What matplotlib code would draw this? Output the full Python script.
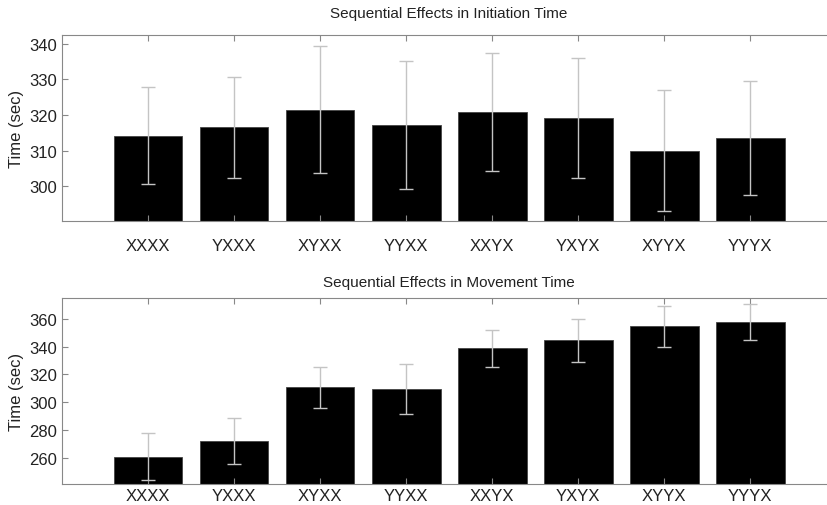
import matplotlib.pyplot as plt
import numpy as np

plt.rcParams['font.family'] = ['Liberation Sans', 'DejaVu Sans']

sequences = ['XXXX', 'YXXX', 'XYXX', 'YYXX', 'XXYX', 'YXYX', 'XYYX', 'YYYX']

# initiation time (sec) and error
init_mean = [314.2, 316.5, 321.5, 317.3, 320.8, 319.1, 310.0, 313.5]
init_err = [13.7, 14.3, 17.8, 18.0, 16.6, 16.8, 17.0, 16.0]

# movement time (sec) and error
move_mean = [261.0, 272.5, 310.6, 309.6, 338.6, 344.4, 354.4, 357.8]
move_err = [17.0, 16.5, 14.5, 17.7, 13.4, 15.3, 15.0, 12.8]


def bar_panel(ax, means, errs, title, ylim, yticks, title_pad, xpad):
    x = np.arange(1, len(sequences) + 1)
    ax.bar(x, means, width=0.8, color='black', edgecolor='#444444', linewidth=0.6)
    ax.errorbar(x, means, yerr=errs, fmt='none', ecolor='#c4c4c4',
                elinewidth=1.0, capsize=5, capthick=1.0)
    ax.set_xlim(0, 9)
    ax.set_ylim(*ylim)
    ax.set_yticks(yticks)
    ax.set_xticks(x)
    ax.set_xticklabels(sequences)
    ax.set_ylabel('Time (sec)', fontsize=12, color='#222222')
    ax.set_title(title, fontsize=11, color='#222222', pad=title_pad)
    ax.tick_params(direction='in', top=True, right=True, length=4,
                   color='#888888', labelsize=12, labelcolor='#222222')
    ax.tick_params(axis='x', pad=xpad)
    for s in ax.spines.values():
        s.set_color('#888888')


fig = plt.figure(figsize=(8.28, 5.06), dpi=100)
ax1 = fig.add_axes([0.0749, 0.5613, 0.935, 0.3676])
ax2 = fig.add_axes([0.0749, 0.0415, 0.935, 0.367])

bar_panel(ax1, init_mean, init_err, 'Sequential Effects in Initiation Time',
          (290.2, 342.5), [300, 310, 320, 330, 340], 13, 12)
bar_panel(ax2, move_mean, move_err, 'Sequential Effects in Movement Time',
          (241.3, 374.6), [260, 280, 300, 320, 340, 360], 9, 3)

fig.savefig('out.png', dpi=100)
